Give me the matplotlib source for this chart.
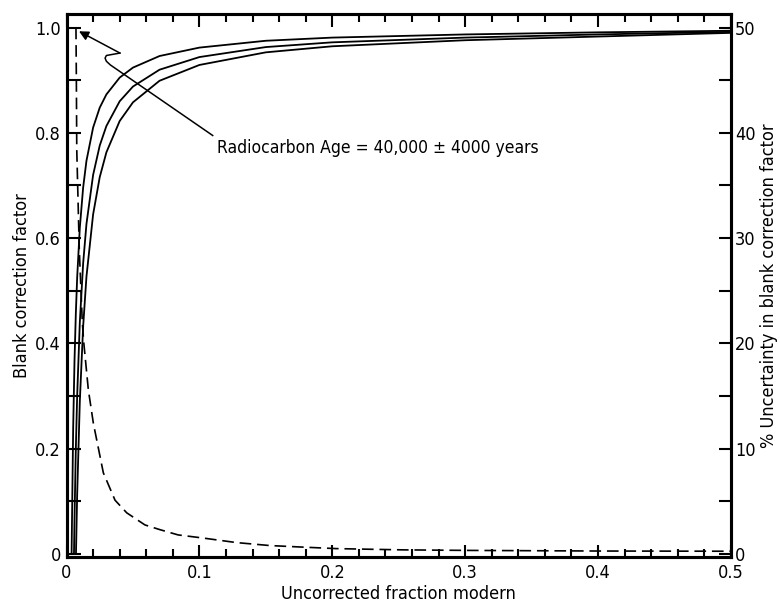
import matplotlib
matplotlib.use("Agg")
import matplotlib.pyplot as plt
from matplotlib.ticker import MultipleLocator, FixedLocator, FuncFormatter

plt.rcParams['font.family'] = ['DejaVu Sans']
plt.rcParams['font.stretch'] = 'condensed'

# --- data ---
frac_a = [0.0038, 0.005, 0.006, 0.007, 0.008, 0.010, 0.0125, 0.015, 0.020, 0.025,
          0.030, 0.040, 0.050, 0.070, 0.100, 0.150, 0.200, 0.300, 0.400, 0.500]
corr_a = [0.0, 0.24, 0.367, 0.457, 0.525, 0.62, 0.696, 0.747, 0.81, 0.848,
          0.873, 0.905, 0.924, 0.946, 0.962, 0.975, 0.981, 0.987, 0.991, 0.994]

frac_b = [0.0056, 0.006, 0.007, 0.008, 0.010, 0.0125, 0.015, 0.020, 0.025,
          0.030, 0.040, 0.050, 0.070, 0.100, 0.150, 0.200, 0.300, 0.400, 0.500]
corr_b = [0.0, 0.067, 0.20, 0.30, 0.44, 0.552, 0.627, 0.72, 0.776,
          0.813, 0.86, 0.888, 0.92, 0.944, 0.963, 0.972, 0.981, 0.987, 0.992]

frac_c = [0.0071, 0.008, 0.010, 0.0125, 0.015, 0.020, 0.025,
          0.030, 0.040, 0.050, 0.070, 0.100, 0.150, 0.200, 0.300, 0.400, 0.500]
corr_c = [0.0, 0.1125, 0.29, 0.432, 0.527, 0.645, 0.716,
          0.763, 0.8225, 0.858, 0.899, 0.929, 0.953, 0.9645, 0.976, 0.983, 0.990]

frac_unc = [0.0071, 0.0074, 0.0077, 0.0096, 0.0118, 0.0128, 0.0164, 0.0202, 0.0277,
            0.0365, 0.0453, 0.059, 0.0703, 0.084, 0.103, 0.128, 0.153, 0.178,
            0.203, 0.253, 0.300, 0.400, 0.500]
unc_pct = [50.0, 45.0, 38.4, 28.9, 22.2, 20.3, 15.6, 12.4, 7.7,
           5.1, 3.9, 2.75, 2.3, 1.8, 1.5, 1.07, 0.79, 0.64,
           0.5, 0.38, 0.33, 0.27, 0.25]

x_ticks = [0, 0.1, 0.2, 0.3, 0.4, 0.5]
y_ticks = [0, 0.2, 0.4, 0.6, 0.8, 1.0]
y2_ticks = [0, 10, 20, 30, 40, 50]

annot_text = "Radiocarbon Age = 40,000 \u00b1 4000 years"

# --- figure ---
fig = plt.figure(figsize=(7.8, 6.05), dpi=100)
ax = fig.add_axes([0.0853, 0.0793, 0.8517, 0.8977])
ylo, yhi = -0.006, 1.026
ax.set_xlim(0, 0.5)
ax.set_ylim(ylo, yhi)

lw = 1.3
for fx, fy in ((frac_a, corr_a), (frac_b, corr_b), (frac_c, corr_c)):
    ax.plot(fx, fy, color='black', lw=lw, solid_capstyle='butt')

ax2 = ax.twinx()
ax2.set_ylim(ylo * 50, yhi * 50)
ax2.plot(frac_unc, unc_pct, color='black', lw=1.2, dashes=(7, 3.5))

for a in (ax, ax2):
    for s in a.spines.values():
        s.set_linewidth(2.2)

fs = 13
ax.xaxis.set_major_locator(FixedLocator(x_ticks))
ax.xaxis.set_minor_locator(MultipleLocator(0.02))
ax.yaxis.set_major_locator(FixedLocator(y_ticks))
ax.yaxis.set_minor_locator(MultipleLocator(0.1))
fmt = FuncFormatter(lambda v, p: "0" if abs(v) < 1e-9 else f"{v:.1f}")
ax.xaxis.set_major_formatter(fmt)
ax.yaxis.set_major_formatter(fmt)
ax.tick_params(axis='x', which='major', direction='in', length=9, width=1.5,
               top=True, labelsize=fs, pad=5)
ax.tick_params(axis='x', which='minor', direction='in', length=6, width=1.5, top=True)
ax.tick_params(axis='y', which='major', direction='in', length=10, width=1.5,
               labelsize=fs, pad=4)
ax.tick_params(axis='y', which='minor', direction='in', length=10, width=1.5)

ax2.yaxis.set_major_locator(FixedLocator(y2_ticks))
ax2.yaxis.set_minor_locator(MultipleLocator(5))
ax2.tick_params(axis='y', which='major', direction='in', length=9, width=1.5,
                labelsize=fs, pad=3)
ax2.tick_params(axis='y', which='minor', direction='in', length=9, width=1.5)

ax.set_xlabel("Uncorrected fraction modern", fontsize=13, labelpad=2)
ax.set_ylabel("Blank correction factor", fontsize=13, labelpad=3)
ax2.set_ylabel("% Uncertainty in blank correction factor", fontsize=13, labelpad=3)

# annotation: text with a hooked leader line ending in an arrow
ax.text(0.113, 0.772, annot_text, fontsize=12.5, ha='left', va='center')
ax.annotate('', xy=(0.0094, 0.993), xytext=(0.0402, 0.9516),
            arrowprops=dict(arrowstyle='-|>', color='black', lw=1.1,
                            mutation_scale=14, shrinkA=0, shrinkB=0))
ax.plot([0.0402, 0.0300, 0.0290, 0.0300, 0.0330, 0.1100],
        [0.9516, 0.9470, 0.9420, 0.9360, 0.9290, 0.795],
        color='black', lw=1.1)

fig.savefig("out.png", dpi=100)
